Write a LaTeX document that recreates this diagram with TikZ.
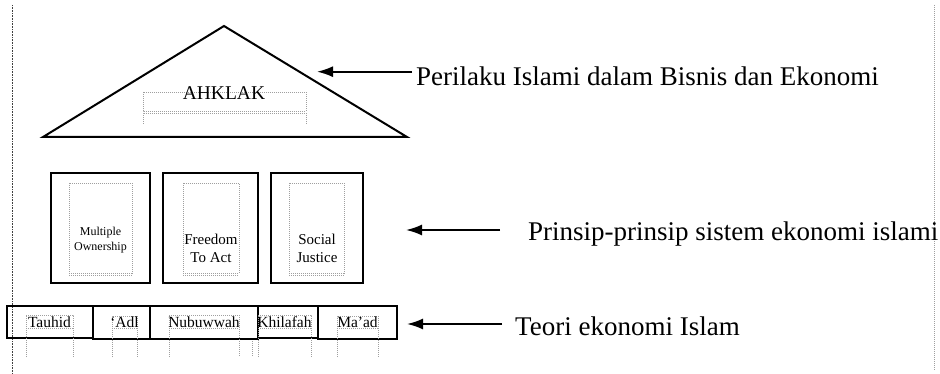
\documentclass[tikz,border=0pt]{standalone}
\usepackage{fontspec}
\setmainfont{Liberation Serif}
\usetikzlibrary{arrows.meta}
\begin{document}
\begin{tikzpicture}[x=1pt,y=-1pt,
  thickbox/.style={draw, line width=2.4pt, inner sep=0pt},
  basebox/.style={draw, line width=2pt, inner sep=0pt, minimum height=33pt},
  dot/.style={draw=gray!75, line width=0.8pt, dash pattern=on 1pt off 1pt},
  pageline/.style={line width=1.4pt, dash pattern=on 1pt off 0.6pt, black!75},
  arr/.style={line width=1.8pt, -{Latex[length=16pt,width=11pt]}},
  lbl/.style={font=\fontsize{27}{30}\selectfont, anchor=base west, inner sep=0pt},
  ptext/.style={font=\fontsize{15}{18}\selectfont, align=center, inner sep=0pt},
  btext/.style={font=\fontsize{15.5}{18}\selectfont, anchor=base, inner sep=0pt},
  ]
\useasboundingbox (0,0) rectangle (940,374);

% page margins
\draw[pageline] (12.5,5) -- (12.5,374);
\draw[dot] (934,5) -- (934,370);

% roof
\draw[line width=2pt, line join=miter] (43,137) -- (224,26) -- (407,137) -- cycle;
\draw[dot] (143,92) rectangle (306,111);
\draw[dot] (143,124) -- (143,113) -- (306,113) -- (306,124);
\node[font=\fontsize{19.5}{22}\selectfont, anchor=base, inner sep=0pt] (ahk) at (224,100) {AHKLAK};

% pillars
\node[thickbox, minimum width=99pt, minimum height=110pt] (b1) at (100.5,228) {};
\node[thickbox, minimum width=95pt, minimum height=110pt] (b2) at (210.5,228) {};
\node[thickbox, minimum width=92pt, minimum height=110pt] (b3) at (317,228) {};
\draw[dot] (69,183) rectangle (132,273);
\draw[dot] (69,275) -- (132,275);
\draw[dot] (183,183) rectangle (239,273);
\draw[dot] (183,275) -- (239,275);
\draw[dot] (289,183) rectangle (344,273);
\draw[dot] (289,275) -- (344,275);
\node[ptext, font=\fontsize{12}{15}\selectfont] (t1) at (100.5,240) {Multiple\\Ownership};
\node[ptext] (t2) at (211,248) {Freedom\\To Act};
\node[ptext] (t3) at (317,248) {Social\\Justice};

% foundation
\node[basebox, minimum width=86pt, minimum height=32pt] (f1) at (50,322) {};
\node[basebox, minimum width=57pt] (f2) at (121.5,322.5) {};
\node[basebox, minimum width=108pt] (f3) at (204,322.5) {};
\node[basebox, minimum width=60pt, minimum height=32pt] (f4) at (288,322) {};
\node[basebox, minimum width=79pt] (f5) at (357.5,322.5) {};

\draw[dot] (26,357) -- (26,315) -- (73,315) -- (73,357);
\draw[dot] (26,328) -- (73,328);
\draw[dot] (112,357) -- (112,316) -- (137,316) -- (137,357);
\draw[dot] (112,328) -- (137,328);
\draw[dot] (169,357) -- (169,315) -- (239,315) -- (239,357);
\draw[dot] (169,328) -- (239,328);
\draw[dot] (252,341) -- (252,357);
\draw[dot] (258,357) -- (258,315) -- (311,315) -- (311,357);
\draw[dot] (258,328) -- (311,328);
\draw[dot] (337,357) -- (337,316) -- (378,316) -- (378,357);
\draw[dot] (337,328) -- (378,328);

\node[btext] (w1) at (49.5,327.5) {Tauhid};
\node[btext] (w2) at (124.5,327.5) {‘Adl};
\node[btext] (w3) at (204,327.5) {Nubuwwah};
\node[btext] (w4) at (284.5,327.5) {Khilafah};
\node[btext] (w5) at (357.5,327.5) {Ma’ad};

% labels and arrows
\node[lbl] (l1) at (416,85.5) {Perilaku Islami dalam Bisnis dan Ekonomi};
\node[lbl] (l2) at (528,241) {Prinsip-prinsip sistem ekonomi islami};
\node[lbl] (l3) at (515,335) {Teori ekonomi Islam};
\coordinate (a1s) at (412,71.7);
\coordinate (a1e) at (317,71.7);
\coordinate (a2s) at (500,230);
\coordinate (a2e) at (406,230);
\coordinate (a3s) at (502,324);
\coordinate (a3e) at (407,324);
\draw[arr] (a1s) -- (a1e);
\draw[arr] (a2s) -- (a2e);
\draw[arr] (a3s) -- (a3e);
\end{tikzpicture}
\end{document}
